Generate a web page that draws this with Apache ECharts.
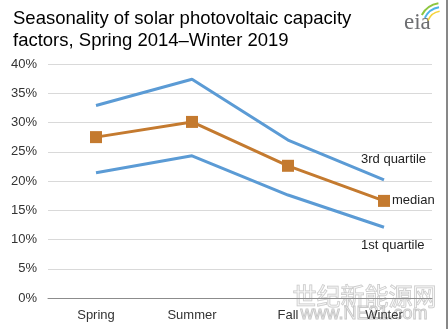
<!DOCTYPE html>
<html><head><meta charset="utf-8">
<script src="https://cdn.jsdelivr.net/npm/echarts@6/dist/echarts.min.js"></script>
<style>html,body{margin:0;padding:0;background:#fff}#c{width:448px;height:329px}</style>
</head><body><div id="c"></div>
<script>
const categories = ['Spring', 'Summer', 'Fall', 'Winter'];
const thirdQuartile = [32.9, 37.4, 27.0, 20.2];
const median = [27.5, 30.1, 22.6, 16.6];
const firstQuartile = [21.4, 24.3, 17.6, 12.1];
const yTicks = [0, 5, 10, 15, 20, 25, 30, 35, 40];

const chart = echarts.init(document.getElementById('c'), null, {renderer: 'canvas'});
const font = 'Liberation Sans, Arial, sans-serif';
const blue = '#5b9bd5';
const orange = '#c47a2f';
function endLabel(text, dx, dy) {
  return {
    show: true, formatter: text, distance: 5, offset: [dx, dy],
    color: '#222', fontSize: 13, fontFamily: font
  };
}
chart.setOption({
  animation: false,
  grid: {left: 48, right: 16, top: 64, bottom: 31, containLabel: false},
  title: {
    text: 'Seasonality of solar photovoltaic capacity\nfactors, Spring 2014\u2013Winter 2019',
    left: 8, top: 3,
    textStyle: {fontSize: 18.5, fontWeight: 'normal', color: '#000', fontFamily: font, lineHeight: 22}
  },
  xAxis: {
    type: 'category', data: categories, boundaryGap: true,
    axisLine: {lineStyle: {color: '#8c8c8c', width: 1}},
    axisTick: {show: false},
    axisLabel: {color: '#333', fontSize: 13, fontFamily: font, margin: 11}
  },
  yAxis: {
    type: 'value', min: yTicks[0], max: yTicks[yTicks.length - 1], interval: 5,
    axisLine: {show: false}, axisTick: {show: false},
    splitLine: {lineStyle: {color: '#d9d9d9', width: 1}},
    axisLabel: {formatter: v => v + '%', color: '#333', fontSize: 13, fontFamily: font, margin: 11}
  },
  series: [
    {name: '3rd quartile', type: 'line', data: thirdQuartile, symbol: 'none',
     lineStyle: {color: blue, width: 3}, itemStyle: {color: blue},
     endLabel: endLabel('3rd quartile', -28, -20)},
    {name: 'median', type: 'line', data: median, symbol: 'rect', symbolSize: 12,
     lineStyle: {color: orange, width: 3}, itemStyle: {color: orange},
     endLabel: endLabel('median', 3, 0)},
    {name: '1st quartile', type: 'line', data: firstQuartile, symbol: 'none',
     lineStyle: {color: blue, width: 3}, itemStyle: {color: blue},
     endLabel: endLabel('1st quartile', -28, 18)}
  ],
  graphic: [
    {type: 'text', left: 404, top: 11, style: {text: 'eia', fontSize: 23, fontFamily: 'Liberation Serif, serif', fill: '#6d6e71'}},
    {type: 'arc', shape: {cx: 442, cy: 26, r: 23, startAngle: -Math.PI*0.84, endAngle: -Math.PI*0.55}, style: {stroke: '#8dc63f', lineWidth: 2, fill: null}},
    {type: 'arc', shape: {cx: 442, cy: 26, r: 19, startAngle: -Math.PI*0.86, endAngle: -Math.PI*0.55}, style: {stroke: '#4db3e6', lineWidth: 2, fill: null}},
    {type: 'arc', shape: {cx: 442, cy: 26, r: 15, startAngle: -Math.PI*0.88, endAngle: -Math.PI*0.55}, style: {stroke: '#f5d33a', lineWidth: 1.5, fill: null}},
    {type: 'text', left: 292, top: 283, style: {text: '世纪新能源网', fontSize: 24, fontFamily: 'Noto Sans CJK SC', fill: 'rgba(255,255,255,0.3)', stroke: '#c8c8c8', lineWidth: 1}},
    {type: 'text', left: 300, top: 305, style: {text: 'www.NE21.com', fontSize: 18, fontFamily: font, fill: 'rgba(255,255,255,0)', stroke: '#c8c8c8', lineWidth: 1}},
    {type: 'line', shape: {x1: 447, y1: 0, x2: 447, y2: 329}, style: {stroke: '#111', lineWidth: 1}}
  ]
});
</script>
</body></html>
